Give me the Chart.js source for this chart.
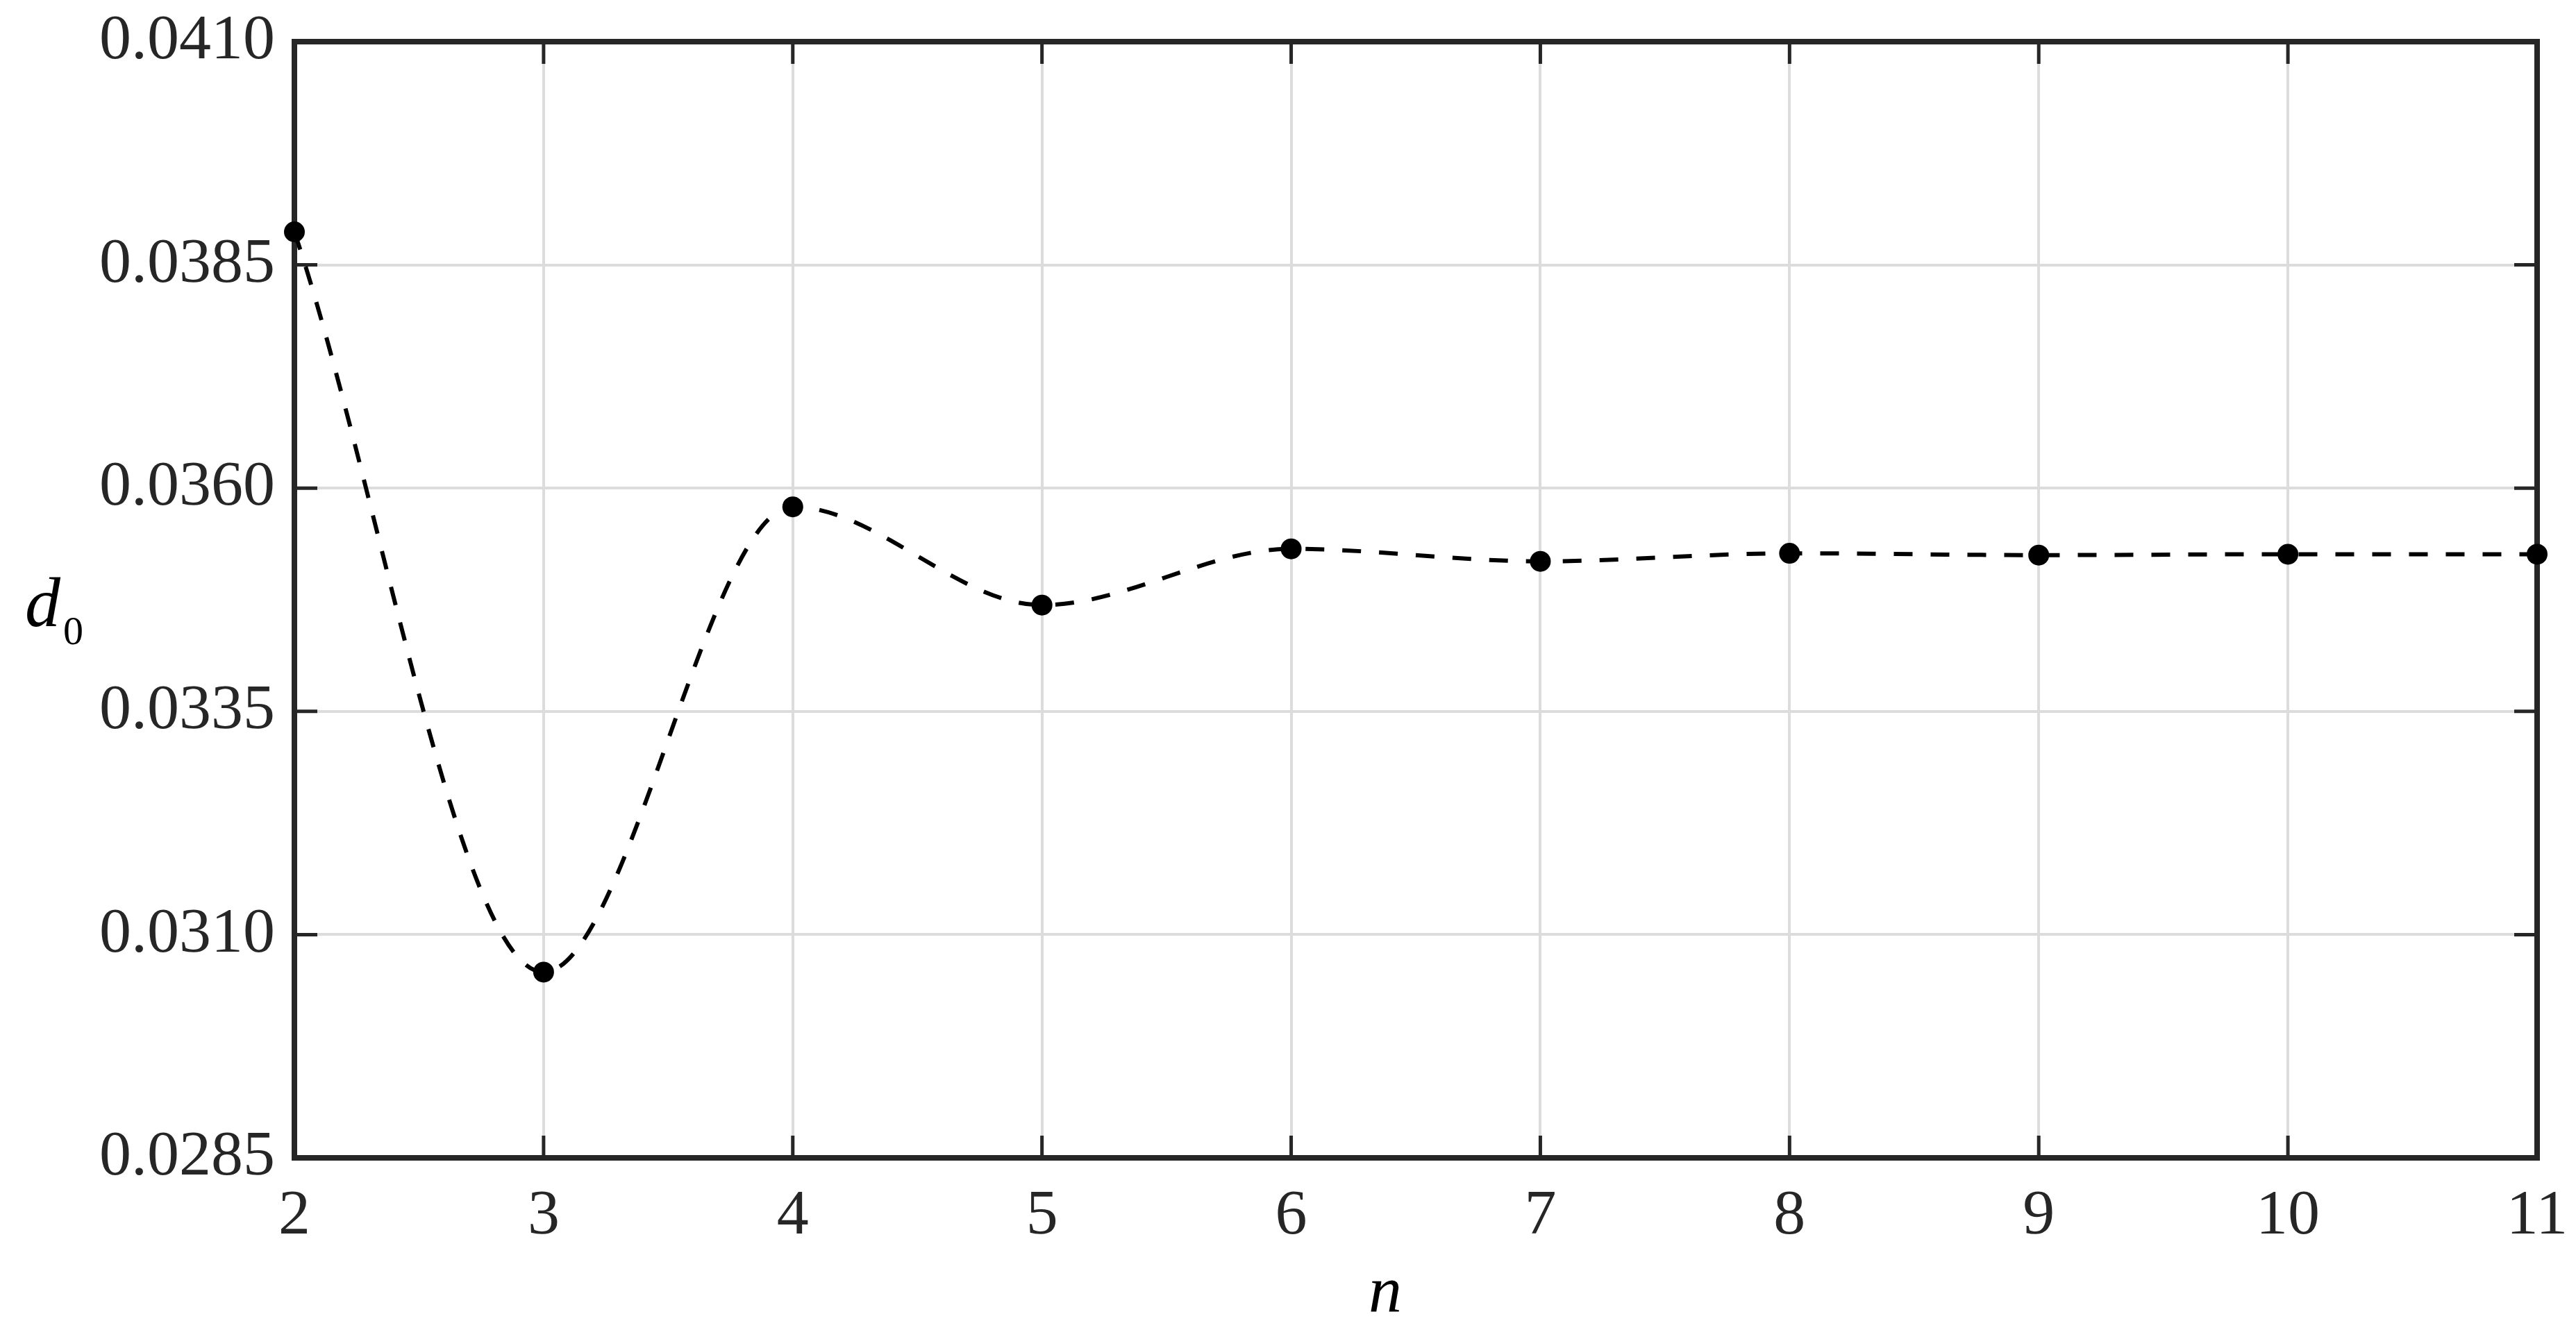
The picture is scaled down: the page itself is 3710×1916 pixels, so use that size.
<!DOCTYPE html>
<html>
<head>
<meta charset="utf-8">
<script src="https://cdn.jsdelivr.net/npm/chart.js@4.4.1/dist/chart.umd.min.js"></script>
<style>
  html, body { margin: 0; padding: 0; background: #ffffff; }
  #wrap { width: 3710px; height: 1916px; }
</style>
</head>
<body>
<div id="wrap"><canvas id="c" width="3710" height="1916"></canvas></div>
<script>
// ---- data ----
const nValues = [2, 3, 4, 5, 6, 7, 8, 9, 10, 11];
const d0Values = [0.03887, 0.03058, 0.03579, 0.03469, 0.03532, 0.03518, 0.03527, 0.03525, 0.03526, 0.03526];
const xTickValues = [2, 3, 4, 5, 6, 7, 8, 9, 10, 11];
const yTickLabels = ['0.0285', '0.0310', '0.0335', '0.0360', '0.0385', '0.0410'];
const xTitle = 'n';
const yTitleMain = 'd';
const yTitleSub = '0';

const FONT = "'Liberation Serif', 'Times New Roman', serif";
const AXIS_COLOR = '#262626';

const framePlugin = {
  id: 'frameTicks',
  beforeDatasetsDraw(chart) {
    const { ctx, chartArea: a, scales } = chart;
    const x = scales.x, y = scales.y;
    ctx.save();
    ctx.strokeStyle = AXIS_COLOR;
    ctx.lineWidth = 5;
    ctx.beginPath();
    xTickValues.forEach(v => {
      const px = x.getPixelForValue(v);
      ctx.moveTo(px, a.bottom); ctx.lineTo(px, a.bottom - 32);
      ctx.moveTo(px, a.top); ctx.lineTo(px, a.top + 32);
    });
    yTickLabels.forEach(l => {
      const py = y.getPixelForValue(Number(l));
      ctx.moveTo(a.left, py); ctx.lineTo(a.left + 33, py);
      ctx.moveTo(a.right, py); ctx.lineTo(a.right - 33, py);
    });
    ctx.stroke();
    ctx.lineWidth = 8;
    ctx.strokeRect(a.left, a.top, a.right - a.left, a.bottom - a.top);
    ctx.restore();
  },
  afterDraw(chart) {
    const { ctx, chartArea: a } = chart;
    const cy = (a.top + a.bottom) / 2;
    const cx = (a.left + a.right) / 2;
    ctx.save();
    ctx.fillStyle = '#000000';
    ctx.textBaseline = 'alphabetic';
    ctx.textAlign = 'left';
    ctx.font = 'italic 102px ' + FONT;
    ctx.fillText(yTitleMain, a.left - 388, cy + 38);
    const w = ctx.measureText(yTitleMain).width;
    ctx.font = '58px ' + FONT;
    ctx.fillText(yTitleSub, a.left - 388 + w + 4, cy + 64);
    ctx.textAlign = 'center';
    ctx.font = 'italic 96px ' + FONT;
    ctx.fillText(xTitle, cx - 44, a.bottom + 222);
    ctx.restore();
  }
};

const ctx = document.getElementById('c').getContext('2d');
new Chart(ctx, {
  type: 'line',
  data: {
    datasets: [{
      data: nValues.map((n, i) => ({ x: n, y: d0Values[i] })),
      borderColor: '#000000',
      borderWidth: 6,
      borderDash: [27, 26],
      cubicInterpolationMode: 'monotone',
      pointRadius: 15,
      pointBackgroundColor: '#000000',
      pointBorderWidth: 0,
      fill: false,
      clip: false
    }]
  },
  options: {
    responsive: false,
    animation: false,
    devicePixelRatio: 1,
    layout: { padding: { left: 0, top: 60, right: 56, bottom: 0 } },
    plugins: { legend: { display: false }, tooltip: { enabled: false } },
    scales: {
      x: {
        type: 'linear',
        min: 2, max: 11,
        afterBuildTicks: s => { s.ticks = xTickValues.map(v => ({ value: v })); },
        afterFit: s => { s.height = 248; s.paddingLeft = 0; s.paddingRight = 0; },
        grid: { color: '#dcdcdc', lineWidth: 4, drawTicks: false },
        border: { display: false },
        ticks: {
          color: AXIS_COLOR,
          font: { family: FONT, size: 92 },
          padding: 30,
          maxRotation: 0,
          autoSkip: false,
          callback: v => String(v)
        }
      },
      y: {
        type: 'linear',
        min: 0.0285, max: 0.0410,
        afterBuildTicks: s => { s.ticks = yTickLabels.map(l => ({ value: Number(l) })); },
        afterFit: s => { s.width = 424; s.paddingTop = 0; s.paddingBottom = 0; },
        grid: { color: '#dcdcdc', lineWidth: 4, drawTicks: false },
        border: { display: false },
        ticks: {
          color: AXIS_COLOR,
          font: { family: FONT, size: 92 },
          padding: 28,
          autoSkip: false,
          callback: v => {
            const l = yTickLabels.find(t => Math.abs(Number(t) - v) < 1e-9);
            return l !== undefined ? l : '';
          }
        }
      }
    }
  },
  plugins: [framePlugin]
});
</script>
</body>
</html>
